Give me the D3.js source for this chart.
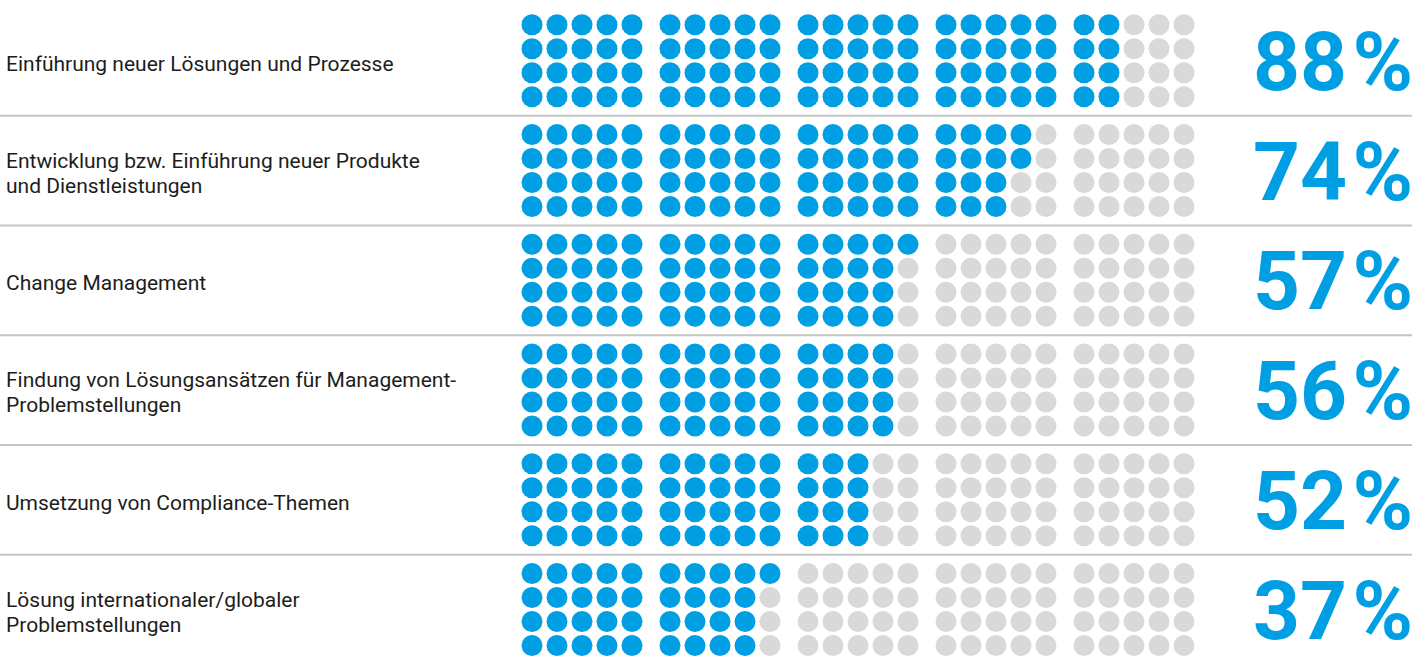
<!DOCTYPE html>
<html>
<head>
<meta charset="utf-8">
<script src="https://cdn.jsdelivr.net/npm/d3@7"></script>
<style>
  html, body { margin: 0; padding: 0; background: #ffffff; }
  svg { display: block; }
</style>
</head>
<body>
<svg id="chart" width="1427" height="659"></svg>
<script>
// Survey topics and share of respondents (percent)
const categories = [
  ["Einführung neuer Lösungen und Prozesse"],
  ["Entwicklung bzw. Einführung neuer Produkte", "und Dienstleistungen"],
  ["Change Management"],
  ["Findung von Lösungsansätzen für Management-", "Problemstellungen"],
  ["Umsetzung von Compliance-Themen"],
  ["Lösung internationaler/globaler", "Problemstellungen"]
];
const values = [88, 74, 57, 56, 52, 37];
const percentSign = "%";

// Waffle layout: 5 blocks of 5 columns x 4 rows = 100 dots per topic
const blocks = d3.range(5);
const cols = d3.range(5);
const rows = d3.range(4);

const BLUE = "#009fe3", GREY = "#d9d9d9", RULE = "#c4c4c4", INK = "#1d1d1b";

const svg = d3.select("#chart");

// vertical bands, one per topic
const y = d3.scaleBand()
  .domain(d3.range(categories.length))
  .range([5.9, 5.9 + 109.75 * categories.length])
  .paddingInner(0).paddingOuter(0);

// horizontal positions of blocks and of columns inside a block
const xBlock = d3.scalePoint().domain(blocks).range([532, 532 + 138 * 4]);
const xCol = d3.scalePoint().domain(cols).range([0, 100]);
const yRow = d3.scalePoint().domain(rows).range([-36, 36]);
const R = 10.5;

// separator rules between topics
svg.append("g")
  .selectAll("line")
  .data(d3.range(1, categories.length))
  .join("line")
  .attr("x1", 0)
  .attr("x2", 1412)
  .attr("y1", d => y(d))
  .attr("y2", d => y(d))
  .attr("stroke", RULE)
  .attr("stroke-width", 2);

const rowsG = svg.append("g")
  .selectAll("g.topic")
  .data(values.map((v, i) => ({ v, i, label: categories[i] })))
  .join("g")
  .attr("class", "topic")
  .attr("transform", d => `translate(0,${y(d.i) + y.bandwidth() / 2})`);

// labels on the left
rowsG.append("text")
  .attr("x", 6)
  .attr("font-family", "Roboto, 'Open Sans', sans-serif")
  .attr("font-size", 21)
  .attr("fill", INK)
  .each(function (d) {
    const t = d3.select(this);
    const lines = d.label;
    const startY = lines.length === 1 ? 10 : -3;
    lines.forEach((ln, k) => {
      t.append("tspan").attr("x", 6).attr("y", startY + k * 25).text(ln);
    });
  });

// dots: fill column by column inside each block, top to bottom
rowsG.each(function (d) {
  const dots = [];
  blocks.forEach(b => cols.forEach(c => rows.forEach(r => {
    const idx = b * 20 + c * 4 + r;
    dots.push({ b, c, r, on: idx < d.v });
  })));
  d3.select(this).append("g")
    .selectAll("circle")
    .data(dots)
    .join("circle")
    .attr("cx", p => xBlock(p.b) + xCol(p.c))
    .attr("cy", p => yRow(p.r))
    .attr("r", R)
    .attr("fill", p => p.on ? BLUE : GREY);
});

// big percentage figures on the right
rowsG.append("text")
  .attr("x", 1347)
  .attr("y", 29)
  .attr("text-anchor", "end")
  .attr("font-family", "Roboto, sans-serif")
  .attr("font-weight", 700)
  .attr("font-size", 82)
  .attr("fill", BLUE)
  .text(d => d.v);

rowsG.append("text")
  .attr("x", 1413)
  .attr("y", 29)
  .attr("text-anchor", "end")
  .attr("font-family", "Roboto, sans-serif")
  .attr("font-weight", 700)
  .attr("font-size", 82)
  .attr("fill", BLUE)
  .text(percentSign);
</script>
</body>
</html>
